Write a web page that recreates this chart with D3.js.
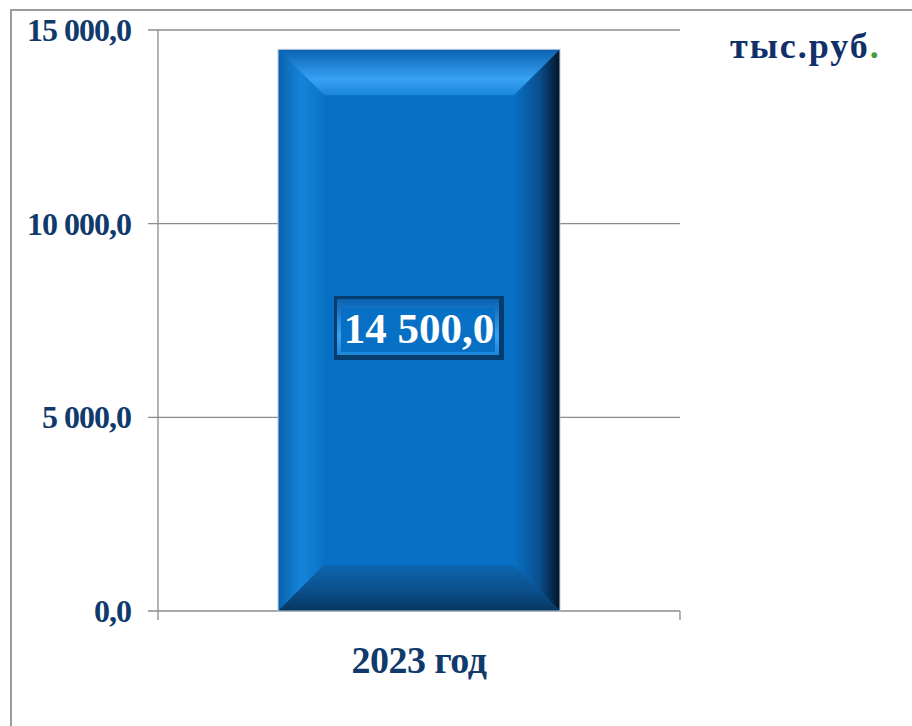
<!DOCTYPE html>
<html>
<head>
<meta charset="utf-8">
<script src="https://cdn.jsdelivr.net/npm/d3@7"></script>
<style>
  body { margin: 0; background: #fff; }
  svg { display: block; font-family: "Liberation Serif", "Times New Roman", serif; }
</style>
</head>
<body>
<svg width="912" height="726"></svg>
<script>
// chart data
const categories = ["2023 год"];
const values = [14500];
const yTicks = [0, 5000, 10000, 15000];
const unitLabel = "тыс.руб";

const fmt = v => d3.format(",.1f")(v).replace(/,/g, " ").replace(".", ",");

const svg = d3.select("svg");
const navy = "#0f3a6b";

// outer frame
svg.append("rect").attr("x", 11).attr("y", 10).attr("width", 920).attr("height", 740)
  .attr("fill", "none").attr("stroke", "#9a9a9a").attr("stroke-width", 2);

const x0 = 158, x1 = 680, yTop = 30, yBot = 611;
const y = d3.scaleLinear().domain([0, 15000]).range([yBot, yTop]);
const x = d3.scaleBand().domain(categories).range([x0, x1]).paddingInner(0.46).paddingOuter(0.23);

const defs = svg.append("defs");
function lin(id, x1_, y1_, x2_, y2_, stops) {
  const g = defs.append("linearGradient").attr("id", id)
    .attr("x1", x1_).attr("y1", y1_).attr("x2", x2_).attr("y2", y2_);
  stops.forEach(s => g.append("stop").attr("offset", s[0]).attr("stop-color", s[1]));
}
lin("gTop", 0, 0, 0, 1, [[0, "#0a62b0"], [0.65, "#38a2f4"], [1, "#1a86d8"]]);
lin("gRight", 0, 0, 1, 0, [[0, "#0870c4"], [0.55, "#0a4f8e"], [1, "#021426"]]);
lin("gBot", 0, 0, 0, 1, [[0, "#0c66b0"], [0.6, "#0b4d88"], [1, "#06355f"]]);
lin("gLeft", 0, 0, 1, 0, [[0, "#0a62ac"], [0.5, "#1584d8"], [1, "#0a72c6"]]);

// gridlines
const grid = svg.append("g");
yTicks.forEach(t => {
  grid.append("line").attr("x1", x0 - 10).attr("x2", x1).attr("y1", y(t)).attr("y2", y(t))
    .attr("stroke", "#8c8c8c").attr("stroke-width", 1.3);
  grid.append("text").attr("x", 131).attr("y", y(t) + 11).attr("text-anchor", "end")
    .attr("font-size", 32).attr("font-weight", "bold").attr("fill", navy)
    .attr("letter-spacing", -1).text(fmt(t));
});
// axis lines
svg.append("line").attr("x1", x0).attr("x2", x0).attr("y1", yTop).attr("y2", yBot + 9)
  .attr("stroke", "#8c8c8c").attr("stroke-width", 1.3);
svg.append("line").attr("x1", x1).attr("x2", x1).attr("y1", yBot).attr("y2", yBot + 9)
  .attr("stroke", "#8c8c8c").attr("stroke-width", 1.3);

// bars with bevel
const bars = svg.append("g");
categories.forEach((c, i) => {
  const bx = x(c), bw = x.bandwidth(), by = y(values[i]), bh = yBot - by;
  const b = 46;
  const g = bars.append("g");
  g.append("rect").attr("x", bx).attr("y", by).attr("width", bw).attr("height", bh).attr("fill", "#0870c4");
  const pts = a => a.map(p => p.join(",")).join(" ");
  g.append("polygon").attr("fill", "url(#gLeft)")
    .attr("points", pts([[bx, by], [bx + b, by + b], [bx + b, yBot - b], [bx, yBot]]));
  g.append("polygon").attr("fill", "url(#gRight)")
    .attr("points", pts([[bx + bw, by], [bx + bw - b, by + b], [bx + bw - b, yBot - b], [bx + bw, yBot]]));
  g.append("polygon").attr("fill", "url(#gTop)")
    .attr("points", pts([[bx, by], [bx + bw, by], [bx + bw - b, by + b], [bx + b, by + b]]));
  g.append("polygon").attr("fill", "url(#gBot)")
    .attr("points", pts([[bx, yBot], [bx + bw, yBot], [bx + bw - b, yBot - b], [bx + b, yBot - b]]));
  g.append("rect").attr("x", bx).attr("y", by).attr("width", bw).attr("height", bh)
    .attr("fill", "none").attr("stroke", "#b9c7d6").attr("stroke-width", 1);

  // value label box
  const cx = bx + bw / 2, cy = 328, lw = 170, lh = 64;
  const lg = g.append("g");
  lg.append("rect").attr("x", cx - lw / 2).attr("y", cy - lh / 2).attr("width", lw).attr("height", lh)
    .attr("fill", "#063c6e");
  lg.append("rect").attr("x", cx - lw / 2 + 3).attr("y", cy - lh / 2 + 3).attr("width", lw - 8).attr("height", lh - 8)
    .attr("fill", "url(#gTop)");
  lg.append("rect").attr("x", cx - lw / 2 + 7).attr("y", cy - lh / 2 + 12).attr("width", lw - 16).attr("height", lh - 20)
    .attr("fill", "#0870c4");
  lg.append("text").attr("x", cx).attr("y", cy + 15).attr("text-anchor", "middle")
    .attr("font-size", 43).attr("font-weight", "bold").attr("fill", "#fff")
    .text(fmt(values[i]));

  // category label
  svg.append("text").attr("x", cx).attr("y", 673).attr("text-anchor", "middle")
    .attr("font-size", 38).attr("font-weight", "bold").attr("fill", navy)
    .attr("letter-spacing", -0.5).text(c);
});

// unit label
const u = svg.append("text").attr("x", 730).attr("y", 58)
  .attr("font-size", 36).attr("font-weight", "bold").attr("fill", "#10306a")
  .attr("letter-spacing", 2);
u.append("tspan").text(unitLabel);
u.append("tspan").attr("fill", "#4a9a3a").text(".");
</script>
</body>
</html>
